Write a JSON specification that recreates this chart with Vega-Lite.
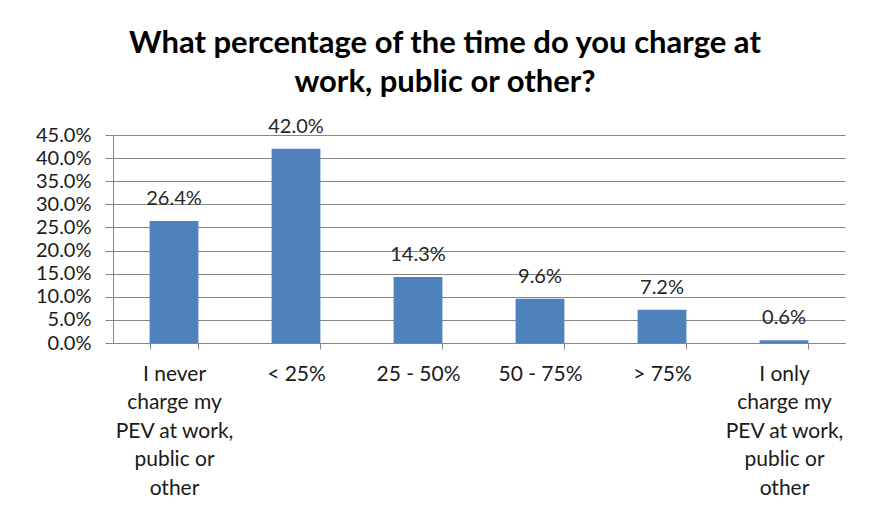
{
  "$schema": "https://vega.github.io/schema/vega-lite/v6.json",
  "width": 732,
  "height": 208,
  "autosize": "none",
  "padding": {"left": 113, "top": 135, "right": 30, "bottom": 172},
  "background": "white",
  "title": {
    "text": ["What percentage of the time do you charge at", "work, public or other?"],
    "font": "Lato",
    "fontSize": 31,
    "fontWeight": "bold",
    "color": "#000000",
    "lineHeight": 39,
    "anchor": "middle",
    "dx": -34,
    "offset": 18
  },
  "data": {
    "values": [
      {"category": "I never charge my PEV at work, public or other", "share": 0.264},
      {"category": "< 25%", "share": 0.42},
      {"category": "25 - 50%", "share": 0.143},
      {"category": "50 - 75%", "share": 0.096},
      {"category": "> 75%", "share": 0.072},
      {"category": "I only charge my PEV at work, public or other", "share": 0.006}
    ]
  },
  "encoding": {
    "x": {
      "field": "category",
      "type": "nominal",
      "sort": null,
      "scale": {"paddingInner": 0.6, "paddingOuter": 0.3},
      "axis": {
        "title": null,
        "labelAngle": 0,
        "labelFont": "Lato",
        "labelFontSize": 21,
        "labelColor": "#1a1a1a",
        "labelLineHeight": 28.6,
        "labelBaseline": "top",
        "labelPadding": 14,
        "tickBand": "extent",
        "tickSize": 6,
        "tickColor": "#868686",
        "domainColor": "#868686",
        "labelLimit": 0,
        "labelExpr": "datum.label == 'I never charge my PEV at work, public or other' ? ['I never', 'charge my', 'PEV at work,', 'public or', 'other'] : datum.label == 'I only charge my PEV at work, public or other' ? ['I only', 'charge my', 'PEV at work,', 'public or', 'other'] : datum.label"
      }
    },
    "y": {
      "field": "share",
      "type": "quantitative",
      "scale": {"domain": [0, 0.45], "nice": false},
      "axis": {
        "title": null,
        "format": ".1%",
        "values": [0, 0.05, 0.1, 0.15, 0.2, 0.25, 0.3, 0.35, 0.4, 0.45],
        "labelFont": "Lato",
        "labelFontSize": 20,
        "labelColor": "#1a1a1a",
        "labelPadding": 14,
        "tickSize": 8,
        "tickColor": "#868686",
        "domainColor": "#868686",
        "gridColor": "#868686",
        "grid": true
      }
    }
  },
  "layer": [
    {"mark": {"type": "bar", "color": "#4F81BD"}},
    {
      "mark": {"type": "text", "baseline": "alphabetic", "dy": -16, "font": "Lato", "fontSize": 20, "color": "#262626"},
      "encoding": {"text": {"field": "share", "type": "quantitative", "format": ".1%"}}
    }
  ],
  "config": {"view": {"stroke": null}}
}
